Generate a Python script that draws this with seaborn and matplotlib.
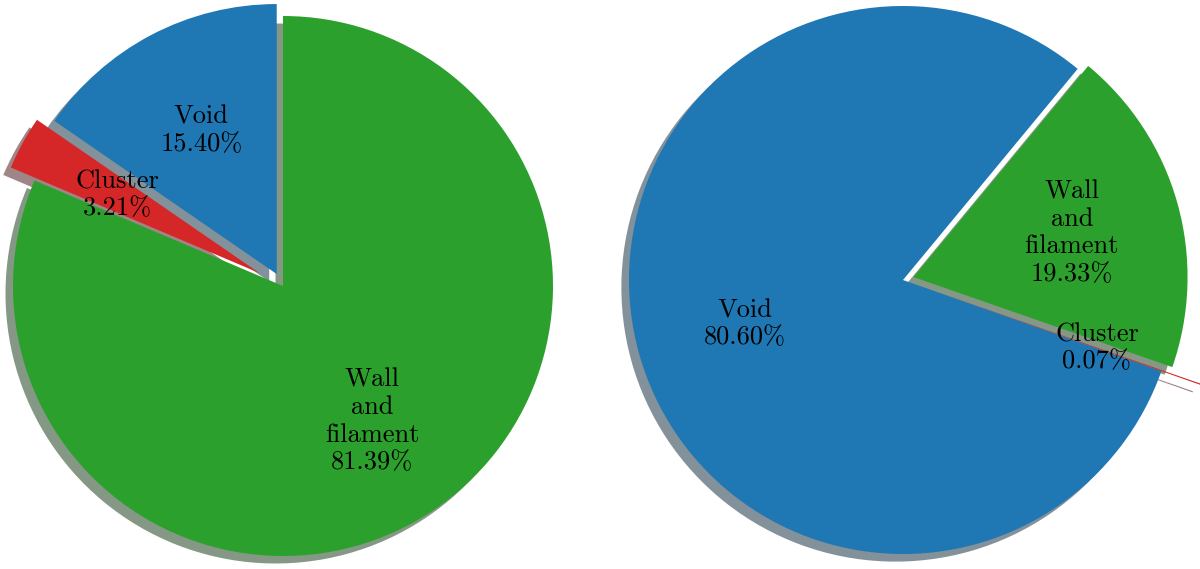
import matplotlib
matplotlib.use("Agg")
import matplotlib.pyplot as plt
import seaborn as sns

sns.set_style("white")
plt.rcParams['font.family'] = 'serif'
plt.rcParams['font.serif'] = ['cmr10', 'DejaVu Serif']
plt.rcParams['axes.formatter.use_mathtext'] = True
plt.rcParams['text.color'] = 'black'

# data
names = ["Void", "Cluster", "Wall\nand\nfilament"]
share_left = [15.40, 3.21, 81.39]
share_right = [80.60, 0.07, 19.33]

pal = sns.color_palette("tab10")
colors = [pal[0], pal[3], pal[2]]


def make_autopct(labels):
    it = iter(labels)

    def fmt(pct):
        return "%s\n%.2f%%" % (next(it), pct)
    return fmt


shadow_opts = {'ox': -0.02, 'oy': -0.02, 'shade': 0.7, 'alpha': 0.5,
               'linewidth': 0}
wedge_opts = {'linewidth': 0}
text_opts = {'fontsize': 19, 'color': 'black'}

fig = plt.figure(figsize=(12, 5.69), dpi=100)

# left pie
ax1 = fig.add_axes([0, 0, 0.5, 1])
ax1.pie(share_left, explode=(0.05, 0.1, 0), colors=colors, startangle=90,
        shadow=shadow_opts, autopct=make_autopct(names), pctdistance=0.6,
        wedgeprops=wedge_opts, textprops=text_opts)
ax1.set_aspect('auto')
ax1.set_xlim(-283 / 270, 317 / 270)
ax1.set_ylim(-283 / 270, 286 / 270)
ax1.axis('off')

# right pie
ax2 = fig.add_axes([0.5, 0, 0.5, 1])
ax2.pie(share_right, explode=(0, 0.15, 0.04), colors=colors, startangle=50.4,
        shadow=shadow_opts, autopct=make_autopct(names), pctdistance=0.6,
        wedgeprops=wedge_opts, textprops=text_opts)
ax2.set_aspect('auto')
ax2.set_xlim(-303 / 274, 297 / 274)
ax2.set_ylim(-289 / 274, 280 / 274)
ax2.axis('off')

fig.savefig("out.png", dpi=100)
